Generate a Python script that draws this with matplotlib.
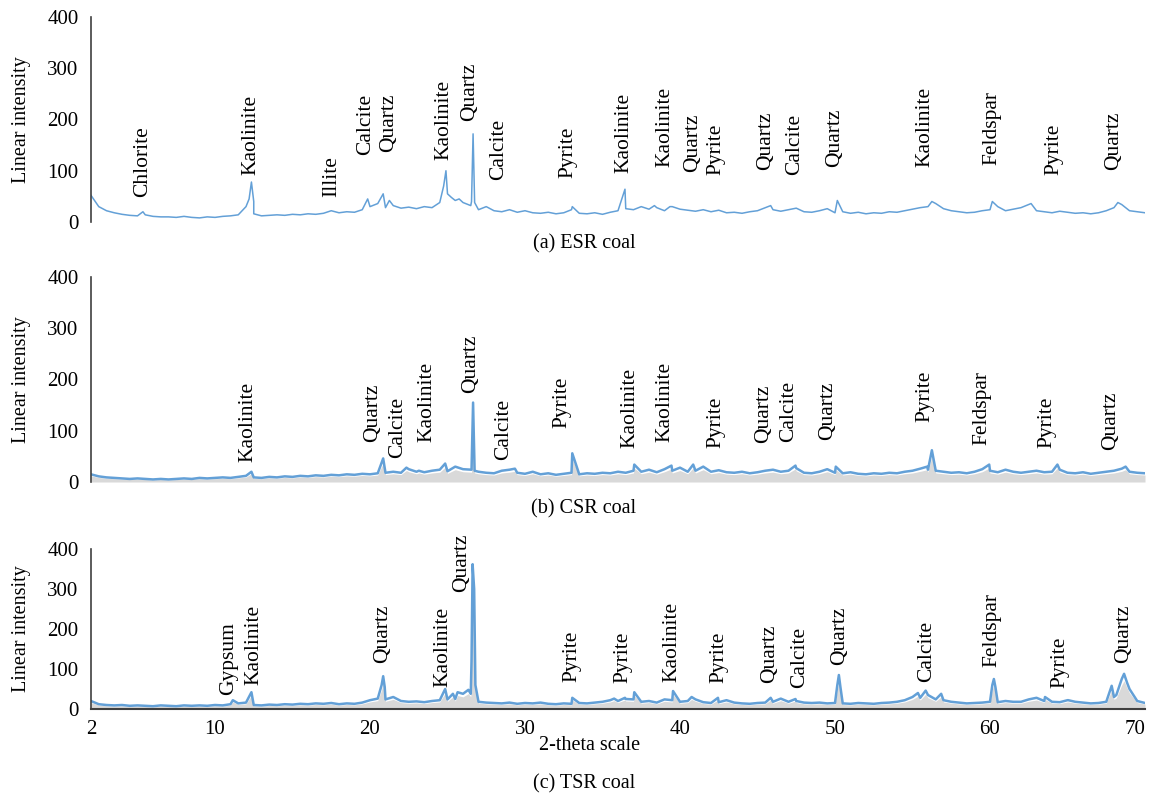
"""
XRD patterns of ESR, CSR and TSR coal samples
"""
import numpy as np
import matplotlib
matplotlib.use("Agg")
import matplotlib.pyplot as plt

plt.rcParams["font.family"] = ["Liberation Serif", "DejaVu Serif"]

# 2-theta sampling of the baseline (0.5 deg step)
two_theta = np.arange(2.0, 70.01, 0.5)

# ---- (a) ESR coal ----
esr_base = [
    52, 30, 22, 18, 15, 13, 12, 14, 11, 10,
    10, 9, 11, 9, 8, 10, 9, 11, 12, 14,
    30, 16, 12, 13, 14, 13, 15, 14, 16, 15,
    17, 22, 18, 20, 19, 24, 30, 36, 28, 32,
    27, 29, 26, 30, 28, 38, 55, 42, 38, 32,
    24, 30, 22, 20, 24, 19, 22, 18, 17, 19,
    16, 18, 24, 17, 16, 18, 15, 19, 22, 26,
    24, 30, 25, 28, 22, 30, 25, 23, 21, 24,
    20, 23, 18, 19, 17, 20, 22, 28, 24, 21,
    24, 27, 20, 19, 22, 26, 18, 20, 17, 19,
    16, 18, 17, 20, 19, 22, 25, 28, 30, 36,
    26, 22, 20, 18, 19, 22, 24, 30, 22, 25,
    28, 34, 22, 20, 18, 21, 19, 17, 18, 16,
    18, 22, 28, 34, 22, 20, 18,
]
esr_peak_x = [5.35, 12.2, 12.35, 12.5, 19.85, 20.85, 21.25, 24.75, 24.9,
              25.25, 25.75, 26.55, 26.65, 26.75, 33.05, 36.45, 38.35, 39.35,
              45.85, 50.15, 56.25, 60.15, 62.65, 68.25]
esr_peak_y = [20, 45, 78, 40, 45, 55, 42, 70, 100,
              48, 45, 40, 172, 38, 30, 64, 32, 30,
              32, 42, 40, 40, 36, 38]
esr_names = ["Chlorite", "Kaolinite", "Illite", "Calcite", "Quartz", "Kaolinite",
             "Quartz", "Calcite", "Pyrite", "Kaolinite", "Kaolinite", "Quartz",
             "Pyrite", "Quartz", "Calcite", "Quartz", "Kaolinite", "Feldspar",
             "Pyrite", "Quartz"]
esr_label_x = [5.3, 12.3, 17.5, 19.7, 21.2, 24.8, 26.4, 28.3, 32.8, 36.4, 39.0,
               40.8, 42.3, 45.5, 47.4, 50.0, 55.8, 60.1, 64.1, 68.0]
esr_label_y = [49, 91, 49, 130, 136, 120, 198, 82, 85, 95, 107, 97, 91, 101,
               91, 107, 107, 111, 91, 101]

# ---- (b) CSR coal ----
csr_base = [
    15, 11, 9, 8, 7, 6, 7, 6, 5, 6,
    5, 6, 7, 6, 8, 7, 8, 9, 8, 10,
    12, 9, 8, 10, 9, 11, 10, 12, 11, 13,
    12, 14, 13, 15, 14, 16, 15, 17, 18, 20,
    18, 25, 20, 19, 22, 24, 21, 30, 25, 24,
    20, 18, 17, 22, 24, 18, 16, 20, 15, 17,
    14, 16, 18, 15, 17, 16, 18, 17, 20, 18,
    22, 20, 24, 19, 25, 22, 28, 20, 22, 30,
    20, 23, 19, 18, 20, 17, 19, 22, 24, 20,
    22, 27, 18, 17, 20, 25, 18, 17, 19, 16,
    15, 17, 16, 18, 17, 20, 22, 26, 24, 22,
    20, 18, 19, 17, 20, 25, 22, 19, 24, 20,
    18, 20, 22, 19, 20, 24, 18, 17, 19, 16,
    18, 20, 22, 26, 20, 18, 17,
]
csr_peak_x = [12.35, 20.85, 22.35, 23.15, 24.85, 26.55, 26.65, 26.75, 29.35,
              33.05, 37.05, 39.45, 40.85, 47.45, 50.05, 55.95, 56.25, 56.45,
              59.95, 64.35, 68.75]
csr_peak_y = [20, 46, 28, 22, 36, 24, 155, 22, 26,
              56, 34, 32, 34, 32, 30, 30, 62, 30,
              34, 34, 30]
csr_names = ["Kaolinite", "Quartz", "Calcite", "Kaolinite", "Quartz", "Calcite",
             "Pyrite", "Kaolinite", "Kaolinite", "Pyrite", "Quartz", "Calcite",
             "Quartz", "Pyrite", "Feldspar", "Pyrite", "Quartz"]
csr_label_x = [12.1, 20.2, 21.8, 23.7, 26.5, 28.6, 32.4, 36.8, 39.0, 42.3, 45.4,
               47.0, 49.5, 55.8, 59.5, 63.7, 67.8]
csr_label_y = [39, 78, 47, 78, 174, 43, 105, 66, 78, 66, 76, 78, 82, 117, 72,
               66, 62]

# ---- (c) TSR coal ----
tsr_base = [
    20, 12, 10, 9, 10, 8, 9, 8, 7, 9,
    8, 7, 9, 8, 9, 8, 10, 9, 12, 14,
    16, 10, 9, 11, 10, 12, 11, 13, 12, 14,
    13, 15, 12, 14, 13, 16, 22, 26, 24, 30,
    20, 18, 19, 17, 20, 22, 24, 25, 38, 38,
    18, 16, 15, 14, 16, 13, 15, 14, 16, 13,
    12, 14, 13, 15, 14, 16, 18, 22, 20, 25,
    24, 18, 20, 16, 24, 22, 18, 20, 24, 17,
    15, 17, 22, 16, 14, 13, 15, 16, 18, 26,
    18, 20, 16, 15, 16, 14, 15, 14, 13, 15,
    14, 13, 15, 16, 18, 22, 30, 28, 35, 24,
    22, 18, 16, 14, 15, 16, 18, 17, 20, 18,
    18, 24, 28, 20, 18, 17, 22, 18, 16, 14,
    15, 18, 30, 75, 50, 20, 15,
]
tsr_peak_x = [11.15, 12.35, 20.75, 20.85, 20.95, 24.85, 25.35, 25.65, 26.35,
              26.55, 26.62, 26.72, 26.8, 33.05, 35.75, 36.45, 37.05, 39.55,
              40.75, 42.45, 45.85, 47.45, 50.15, 50.25, 50.35, 55.35, 55.85,
              56.85, 60.15, 60.25, 60.35, 63.55, 65.05, 67.85, 68.15, 68.65,
              68.85]
tsr_peak_y = [22, 42, 60, 82, 55, 50, 38, 42, 48,
              120, 362, 300, 60, 28, 26, 28, 42, 45,
              30, 28, 28, 25, 60, 85, 55, 40, 46,
              38, 60, 75, 55, 30, 22, 58, 35, 88,
              65]
tsr_names = ["Gypsum", "Kaolinite", "Quartz", "Kaolinite", "Quartz", "Pyrite",
             "Pyrite", "Kaolinite", "Pyrite", "Quartz", "Calcite", "Quartz",
             "Calcite", "Feldspar", "Pyrite", "Quartz"]
tsr_label_x = [10.9, 12.5, 20.8, 24.7, 25.9, 33.0, 36.3, 39.5, 42.5, 45.8, 47.7,
               50.3, 55.9, 60.1, 64.5, 68.6]
tsr_label_y = [35, 60, 115, 55, 292, 67, 65, 67, 65, 65, 52, 110, 67, 105, 52,
               115]

x_ticks = [2, 10, 20, 30, 40, 50, 60, 70]
y_ticks = [0, 100, 200, 300, 400]

W, H = 1150, 798
fig = plt.figure(figsize=(W / 100, H / 100), dpi=100)


def fx(px):
    return px / W


def fy(py):
    return 1 - py / H


def pattern(base, peak_x, peak_y):
    x = np.concatenate([two_theta, peak_x])
    y = np.concatenate([np.array(base, float), np.array(peak_y, float)])
    order = np.argsort(x)
    return x[order], y[order]


panels = [
    dict(base=esr_base, px=esr_peak_x, py=esr_peak_y, names=esr_names,
         lx=esr_label_x, ly=esr_label_y, top=17, bottom=222, fill=False,
         lw=1.1, caption="(a) ESR coal", cap_y=244),
    dict(base=csr_base, px=csr_peak_x, py=csr_peak_y, names=csr_names,
         lx=csr_label_x, ly=csr_label_y, top=277, bottom=482, fill=True,
         lw=1.8, caption="(b) CSR coal", cap_y=509),
    dict(base=tsr_base, px=tsr_peak_x, py=tsr_peak_y, names=tsr_names,
         lx=tsr_label_x, ly=tsr_label_y, top=549, bottom=709, fill=True,
         lw=1.8, caption="(c) TSR coal", cap_y=784),
]

for i, p in enumerate(panels):
    ax = fig.add_axes([fx(91), fy(p["bottom"]), fx(1145) - fx(91),
                       (p["bottom"] - p["top"]) / H])
    x, y = pattern(p["base"], p["px"], p["py"])
    if p["fill"]:
        ax.fill_between(x, 0, y * 0.8, color="#D9D9D9", lw=0)
    ax.plot(x, y, color="#5B9BD5", lw=p["lw"], alpha=0.95)

    for name, lx, ly in zip(p["names"], p["lx"], p["ly"]):
        ax.text(lx, ly, name, rotation=90, ha="center", va="bottom",
                fontsize=15.5, clip_on=False)

    ax.set_xlim(2, 70)
    ax.set_ylim(0, 400)
    ax.set_yticks(y_ticks)
    ax.tick_params(axis="y", length=0, pad=9, labelsize=15)
    for s in ["top", "right"]:
        ax.spines[s].set_visible(False)
    ax.spines["left"].set_color("#404040")
    ax.spines["left"].set_linewidth(1.2)
    if i < 2:
        ax.spines["bottom"].set_visible(False)
        ax.set_xticks([])
    else:
        ax.spines["bottom"].set_color("#404040")
        ax.spines["bottom"].set_linewidth(1.5)
        ax.set_xticks(x_ticks)
        ax.tick_params(axis="x", length=0, pad=8, labelsize=15)
        # keep the last label inside the figure
        ax.get_xticklabels()[-1].set_horizontalalignment("right")

    fig.text(fx(22), fy((p["top"] + p["bottom"]) / 2), "Linear intensity",
             rotation=90, ha="center", va="center", fontsize=14.5)
    fig.text(fx(584), fy(p["cap_y"]), p["caption"], ha="center", va="center",
             fontsize=14.5)

fig.text(fx(590), fy(746), "2-theta scale", ha="center", va="center",
         fontsize=14.5)

fig.savefig("out.png", dpi=100)
